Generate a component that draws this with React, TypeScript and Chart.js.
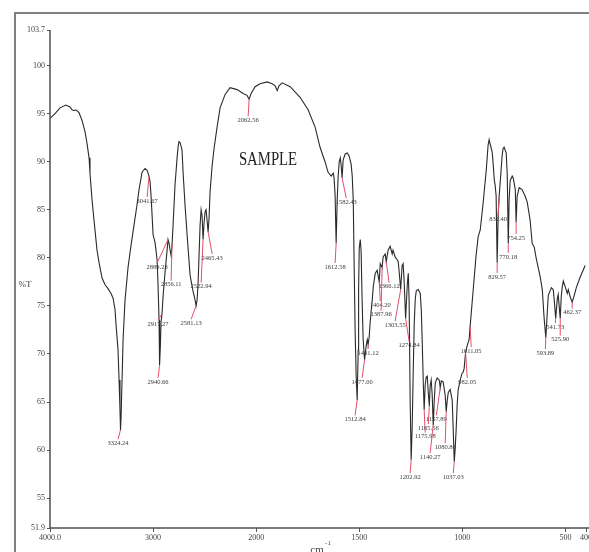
import React, { useEffect, useRef } from 'react';
import { Chart, registerables, LinearScale } from 'chart.js';

Chart.register(...registerables);

// ---------- data ----------
const wavenumbers = [
  4000, 3951, 3903, 3845, 3806, 3786, 3767, 3748, 3719, 3689,
  3660, 3641, 3621, 3612, 3592, 3573, 3544, 3524, 3495, 3466,
  3437, 3408, 3388, 3369, 3359, 3340, 3330, 3321, 3316, 3311,
  3301, 3291, 3272, 3243, 3214, 3185, 3156, 3136, 3107, 3078,
  3058, 3039, 3029, 3020, 3010, 3000, 2981, 2961, 2952, 2942,
  2937, 2929, 2923, 2913, 2903, 2884, 2864, 2855, 2845, 2835,
  2825, 2816, 2806, 2787, 2767, 2757, 2748, 2738, 2719, 2709,
  2690, 2670, 2641, 2612, 2592, 2583, 2573, 2563, 2554, 2544,
  2534, 2525, 2515, 2505, 2495, 2486, 2476, 2466, 2457, 2447,
  2427, 2408, 2379, 2350, 2301, 2253, 2185, 2127, 2088, 2068,
  2049, 2010, 1981, 1947, 1922, 1908, 1898, 1889, 1874, 1835,
  1787, 1748, 1714, 1690, 1666, 1651, 1636, 1626, 1622, 1617,
  1612, 1607, 1602, 1597, 1592, 1588, 1583, 1578, 1568, 1558,
  1549, 1539, 1534, 1529, 1525, 1520, 1515, 1510, 1505, 1503,
  1500, 1495, 1491, 1486, 1481, 1474, 1466, 1461, 1457, 1452,
  1447, 1437, 1432, 1422, 1413, 1408, 1403, 1398, 1389, 1384,
  1374, 1369, 1360, 1350, 1340, 1336, 1326, 1316, 1311, 1306,
  1299, 1292, 1287, 1282, 1275, 1267, 1262, 1258, 1253, 1248,
  1243, 1238, 1233, 1228, 1223, 1214, 1204, 1199, 1194, 1189,
  1185, 1180, 1175, 1170, 1165, 1160, 1156, 1151, 1146, 1141,
  1136, 1131, 1122, 1112, 1107, 1102, 1093, 1083, 1078, 1073,
  1068, 1059, 1049, 1044, 1039, 1035, 1030, 1025, 1020, 1010,
  1001, 996, 991, 984, 976, 967, 962, 947, 933, 923,
  913, 899, 884, 875, 870, 860, 855, 850, 845, 841,
  836, 831, 826, 821, 816, 807, 802, 797, 787, 782,
  777, 773, 768, 758, 753, 743, 739, 734, 724, 710,
  695, 685, 671, 661, 651, 642, 637, 622, 612, 603,
  595, 590, 583, 568, 559, 554, 547, 539, 535, 525,
  520, 515, 510, 501, 491, 486, 476, 467, 457, 447,
  428, 404,
];

const transmittance = [
  94.5, 95.0, 95.6, 95.9, 95.7, 95.4, 95.3, 95.4, 95.1, 94.3,
  93.1, 91.9, 90.4, 88.8, 86.0, 83.9, 80.8, 79.5, 77.9, 77.2,
  76.8, 76.3, 75.8, 74.6, 73.0, 70.4, 67.3, 64.2, 62.1, 63.3,
  67.3, 71.5, 75.6, 79.0, 81.3, 83.4, 85.5, 87.1, 88.9, 89.3,
  89.1, 88.5, 87.9, 86.5, 84.5, 82.4, 81.6, 79.8, 77.2, 73.5,
  68.8, 70.9, 73.3, 74.2, 76.0, 78.5, 80.8, 81.9, 81.5, 80.8,
  80.2, 81.4, 83.4, 87.6, 90.4, 91.6, 92.1, 92.0, 91.2, 88.9,
  85.5, 82.4, 78.2, 76.5, 75.6, 75.0, 75.6, 77.4, 80.3, 83.4,
  85.0, 84.4, 81.9, 83.7, 84.8, 85.0, 83.9, 82.7, 84.1, 86.9,
  89.6, 91.4, 93.6, 95.6, 97.0, 97.7, 97.5, 97.1, 96.9, 96.5,
  97.1, 97.8, 98.1, 98.3, 98.1, 97.9, 97.4, 97.9, 98.2, 97.8,
  96.7, 95.4, 93.6, 91.5, 90.0, 88.9, 88.5, 88.8, 88.3, 86.5,
  81.5, 86.0, 88.6, 90.0, 90.4, 89.7, 88.3, 90.2, 90.8, 90.9,
  90.6, 89.7, 88.5, 86.0, 79.8, 72.5, 67.8, 65.2, 70.4, 76.7,
  81.0, 81.9, 80.8, 75.6, 71.5, 69.4, 70.9, 71.5, 71.0, 71.7,
  73.3, 75.6, 77.0, 78.4, 78.7, 78.1, 77.5, 79.4, 79.0, 80.1,
  80.4, 79.6, 80.8, 81.2, 80.4, 80.8, 80.1, 79.8, 79.6, 78.5,
  76.7, 79.2, 79.4, 77.5, 73.7, 77.2, 78.4, 75.6, 65.2, 59.0,
  62.6, 68.3, 73.3, 75.8, 76.6, 76.7, 76.3, 74.6, 70.9, 66.8,
  64.2, 66.8, 67.6, 67.7, 66.0, 64.6, 66.7, 67.3, 65.7, 62.6,
  65.2, 67.0, 67.5, 67.3, 66.5, 67.2, 67.1, 65.7, 64.0, 65.2,
  66.0, 66.3, 65.2, 62.1, 58.8, 60.0, 62.1, 64.7, 66.3, 67.3,
  68.0, 68.1, 68.5, 70.2, 70.9, 71.5, 72.9, 76.7, 80.3, 82.2,
  82.9, 85.7, 89.1, 91.7, 92.3, 91.4, 91.0, 89.7, 88.1, 87.6,
  86.5, 79.5, 84.5, 86.5, 87.9, 90.6, 91.4, 91.5, 90.9, 88.6,
  81.5, 86.0, 88.0, 88.5, 88.3, 87.1, 83.7, 86.4, 87.3, 87.1,
  86.4, 85.8, 83.9, 81.5, 81.1, 80.0, 79.5, 78.0, 76.7, 73.7,
  71.7, 73.5, 76.1, 76.9, 76.7, 75.6, 73.7, 75.8, 76.2, 73.7,
  76.0, 77.0, 77.6, 77.0, 76.3, 76.7, 75.9, 75.4, 76.1, 76.9,
  78.0, 79.2,
];

// peak annotations
const peakLabels = [
  '3324.24', '3041.67', '2940.66', '2917.27', '2889.23', '2856.11', '2581.13', '2522.94', '2465.43', '2062.56',
  '1612.58', '1582.43', '1512.84', '1477.00', '1461.12', '1366.12', '1404.20', '1387.96', '1303.55', '1274.84',
  '1202.92', '1175.98', '1165.56', '1157.89', '1140.27', '1080.86', '1037.03', '982.05', '1011.05', '829.57',
  '832.40', '770.18', '754.25', '593.89', '541.73', '525.90', '462.37',
];
const peakWavenumbers = [
  3316, 3039, 2937, 2913, 2855, 2816, 2583, 2515, 2466, 2068,
  1612, 1583, 1510, 1474, 1457, 1369, 1403, 1389, 1299, 1275,
  1248, 1185, 1160, 1107, 1141, 1078, 1039, 984, 962, 831,
  821, 777, 739, 595, 547, 525, 467,
];
const peakTransmittance = [
  62.1, 88.5, 68.8, 74.2, 81.9, 81.4, 75.0, 81.9, 82.7, 96.5,
  81.5, 88.3, 65.2, 69.4, 71.0, 79.6, 77.5, 79.0, 76.7, 73.7,
  59.0, 64.2, 64.6, 66.5, 62.6, 64.0, 58.8, 70.2, 72.9, 79.5,
  86.5, 81.5, 83.7, 71.7, 73.7, 73.7, 75.4,
];
const labelWavenumbers = [
  3340, 3058, 2952, 2952, 2961, 2825, 2631, 2534, 2427, 2078,
  1617, 1563, 1520, 1486, 1457, 1355, 1398, 1394, 1326, 1258,
  1253, 1180, 1165, 1126, 1156, 1083, 1044, 976, 957, 831,
  826, 777, 739, 597, 549, 525, 467,
];
const labelTransmittance = [
  60.7, 85.9, 67.1, 73.1, 79.05, 77.2, 73.2, 77.0, 80.0, 94.3,
  79.05, 85.8, 63.2, 67.1, 70.1, 77.0, 75.1, 74.1, 73.0, 70.9,
  57.2, 61.4, 62.3, 63.2, 59.3, 60.3, 57.2, 67.1, 70.3, 78.0,
  84.0, 80.1, 82.07, 70.1, 72.8, 71.5, 74.3,
];

const xTickValues = [4000, 3000, 2000, 1500, 1000, 500, 400];
const xTickLabels = ['4000.0', '3000', '2000', '1500', '1000', '500', '400'];
const yTickValues = [103.7, 100, 95, 90, 85, 80, 75, 70, 65, 60, 55, 51.9];
const yTickLabels = ['103.7', '100', '95', '90', '85', '80', '75', '70', '65', '60', '55', '51.9'];

const sampleTitle = 'SAMPLE';
const yAxisTitle = '%T';
const xAxisTitle = 'cm';
const xAxisTitleSup = '-1';

// ---------- split wavenumber scale (x2 expansion below 2000 cm-1) ----------
class SplitWavenumberScale extends LinearScale {
  static id = 'splitWavenumber';
  static defaults = {};
  getPixelForValue(value: number) {
    if (value === null || value === undefined) return NaN;
    const u = value >= 2000 ? 4000 - value : 2000 + (2000 - value) * 2;
    return this.getPixelForDecimal(u / 5200);
  }
  getValueForPixel(pixel: number) {
    const u = this.getDecimalForPixel(pixel) * 5200;
    return u <= 2000 ? 4000 - u : 2000 - (u - 2000) / 2;
  }
}
Chart.register(SplitWavenumberScale as any);

const SERIF = "'Liberation Serif', 'DejaVu Serif', serif";

const decorPlugin = {
  id: 'decor',
  beforeDraw(chart: any) {
    const ctx = chart.ctx;
    ctx.save();
    ctx.fillStyle = '#ffffff';
    ctx.fillRect(0, 0, chart.width, chart.height);
    ctx.strokeStyle = '#808080';
    ctx.lineWidth = 2;
    ctx.beginPath();
    ctx.moveTo(15, chart.height);
    ctx.lineTo(15, 13);
    ctx.lineTo(chart.width, 13);
    ctx.stroke();
    ctx.restore();
  },
  afterDatasetsDraw(chart: any) {
    const ctx = chart.ctx;
    const xs = chart.scales.x;
    const ys = chart.scales.y;
    ctx.save();
    ctx.font = `6.5px ${SERIF}`;
    ctx.textAlign = 'center';
    ctx.textBaseline = 'middle';
    const n = Math.min(peakLabels.length, peakWavenumbers.length, peakTransmittance.length, labelWavenumbers.length, labelTransmittance.length);
    for (let i = 0; i < n; i++) {
      const px = xs.getPixelForValue(peakWavenumbers[i]);
      const py = ys.getPixelForValue(peakTransmittance[i]);
      const lx = xs.getPixelForValue(labelWavenumbers[i]);
      const ly = ys.getPixelForValue(labelTransmittance[i]);
      const end = ly > py ? ly - 4 : ly + 4;
      ctx.strokeStyle = '#e2506a';
      ctx.lineWidth = 1;
      ctx.beginPath();
      ctx.moveTo(px, py);
      ctx.lineTo(lx, end);
      ctx.stroke();
      ctx.fillStyle = '#3a3a3a';
      ctx.fillText(peakLabels[i], lx, ly);
    }
    ctx.restore();
  },
  afterDraw(chart: any) {
    const ctx = chart.ctx;
    const a = chart.chartArea;
    ctx.save();
    ctx.strokeStyle = '#505050';
    ctx.lineWidth = 1.5;
    ctx.beginPath();
    ctx.moveTo(a.left, a.top);
    ctx.lineTo(a.left, a.bottom);
    ctx.lineTo(chart.width, a.bottom);
    ctx.stroke();

    ctx.fillStyle = '#222';
    ctx.textAlign = 'center';
    ctx.textBaseline = 'middle';
    ctx.save();
    ctx.translate(268, 160);
    ctx.scale(0.82, 1);
    ctx.font = `18px ${SERIF}`;
    ctx.fillText(sampleTitle, 0, 0);
    ctx.restore();

    ctx.fillStyle = '#444';
    ctx.font = `9px ${SERIF}`;
    ctx.fillText(yAxisTitle, 25, 285);

    ctx.font = `11px ${SERIF}`;
    ctx.fillText(xAxisTitle, 317, 550);
    ctx.font = `7px ${SERIF}`;
    ctx.fillText(xAxisTitleSup, 328, 543);
    ctx.restore();
  },
};

export default function App() {
  const ref = useRef<HTMLCanvasElement>(null);
  useEffect(() => {
    if (!ref.current) return;
    const n = Math.min(wavenumbers.length, transmittance.length);
    const points = [];
    for (let i = 0; i < n; i++) points.push({ x: wavenumbers[i], y: transmittance[i] });
    const chart = new Chart(ref.current, {
      type: 'line',
      data: {
        datasets: [
          {
            data: points,
            borderColor: '#2a2a2a',
            borderWidth: 1.1,
            pointRadius: 0,
            tension: 0,
            fill: false,
          },
        ],
      },
      options: {
        animation: false,
        responsive: false,
        devicePixelRatio: 1,
        layout: { padding: { top: 30, right: 3, left: 0, bottom: 0 } },
        plugins: { legend: { display: false }, tooltip: { enabled: false }, title: { display: false } },
        scales: {
          x: {
            type: 'splitWavenumber' as any,
            min: 400,
            max: 4000,
            afterBuildTicks: (scale: any) => {
              scale.ticks = xTickValues.map((v) => ({ value: v }));
            },
            afterFit: (scale: any) => {
              scale.height = 24;
              scale.paddingLeft = 0;
              scale.paddingRight = 0;
            },
            grid: { display: true, drawOnChartArea: false, drawTicks: true, tickLength: 4, color: '#555', lineWidth: 1 },
            border: { display: false },
            ticks: {
              autoSkip: false,
              maxRotation: 0,
              minRotation: 0,
              padding: 1,
              color: '#444',
              font: { family: SERIF, size: 8 },
              callback: (value: any) => {
                const idx = xTickValues.indexOf(Number(value));
                return idx >= 0 ? xTickLabels[idx] : '';
              },
            },
          },
          y: {
            type: 'linear',
            min: 51.9,
            max: 103.7,
            afterBuildTicks: (scale: any) => {
              scale.ticks = yTickValues.map((v) => ({ value: v }));
            },
            afterFit: (scale: any) => {
              scale.width = 50;
              scale.paddingTop = 0;
              scale.paddingBottom = 0;
            },
            grid: { display: true, drawOnChartArea: false, drawTicks: true, tickLength: 3, color: '#555', lineWidth: 1 },
            border: { display: false },
            ticks: {
              autoSkip: false,
              padding: 2,
              color: '#444',
              font: { family: SERIF, size: 8 },
              callback: (value: any) => {
                const idx = yTickValues.indexOf(Number(value));
                return idx >= 0 ? yTickLabels[idx] : '';
              },
            },
          },
        },
      },
      plugins: [decorPlugin],
    } as any);
    return () => chart.destroy();
  }, []);
  return (
    <div style={{ position: 'fixed', left: 0, top: 0, width: 589, height: 552, background: '#fff' }}>
      <canvas ref={ref} width={589} height={552} style={{ display: 'block', width: 589, height: 552 }} />
    </div>
  );
}
